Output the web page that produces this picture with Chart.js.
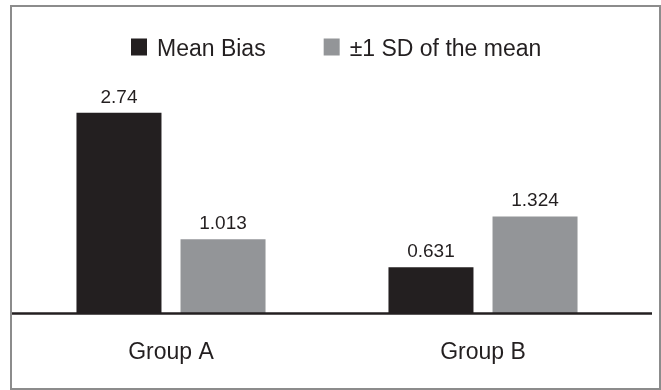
<!DOCTYPE html>
<html>
<head>
<meta charset="utf-8">
<script src="https://cdn.jsdelivr.net/npm/chart.js@4"></script>
<style>
  html, body { margin: 0; padding: 0; background: #ffffff; }
  #wrap { position: relative; width: 661px; height: 390px; overflow: hidden; }
  #frame { position: absolute; left: 10px; top: 5px; width: 651px; height: 385px; box-sizing: border-box; border: 2px solid #8c8c8c; pointer-events: none; }
  canvas { position: absolute; left: 0; top: 0; }
</style>
</head>
<body>
<div id="wrap">
  <canvas id="c" width="661" height="390"></canvas>
  <div id="frame"></div>
</div>
<script>
const categories = ["Group A", "Group B"];
const seriesNames = ["Mean Bias", "\u00b11 SD of the mean"];
const meanBias = [2.74, 0.631];
const sdOfMean = [1.013, 1.324];
const valueLabels = [["2.74", "0.631"], ["1.013", "1.324"]];

const INK = "#231f20";
const GREY = "#939598";
const FONT = "'Liberation Sans', Arial, Helvetica, sans-serif";

const valueLabelPlugin = {
  id: "valueLabels",
  afterDatasetsDraw(chart) {
    const ctx = chart.ctx;
    ctx.save();
    ctx.fillStyle = INK;
    ctx.font = "19px " + FONT;
    ctx.textAlign = "center";
    ctx.textBaseline = "alphabetic";
    chart.data.datasets.forEach((ds, di) => {
      chart.getDatasetMeta(di).data.forEach((bar, i) => {
        ctx.fillText(valueLabels[di][i], bar.x, bar.y - 10);
      });
    });
    // baseline axis line
    const y0 = chart.scales.y.getPixelForValue(0);
    ctx.strokeStyle = INK;
    ctx.lineWidth = 2.5;
    ctx.beginPath();
    ctx.moveTo(chart.chartArea.left - 3, y0);
    ctx.lineTo(chart.chartArea.right + 13, y0);
    ctx.stroke();
    ctx.restore();
  }
};

const legendPlugin = {
  id: "customLegend",
  afterDraw(chart) {
    const ctx = chart.ctx;
    ctx.save();
    ctx.font = "23px " + FONT;
    ctx.textBaseline = "alphabetic";
    ctx.textAlign = "left";
    let x = 131;
    const baseY = 56;
    chart.data.datasets.forEach((ds) => {
      ctx.fillStyle = ds.backgroundColor;
      ctx.fillRect(x, 38.5, 16, 17);
      ctx.fillStyle = INK;
      ctx.fillText(ds.label, x + 26, baseY);
      x += 26 + ctx.measureText(ds.label).width + 58;
    });
    ctx.restore();
  }
};

new Chart(document.getElementById("c"), {
  type: "bar",
  data: {
    labels: categories,
    datasets: [
      { label: seriesNames[0], data: meanBias, backgroundColor: INK, borderWidth: 0 },
      { label: seriesNames[1], data: sdOfMean, backgroundColor: GREY, borderWidth: 0 }
    ]
  },
  options: {
    responsive: false,
    animation: false,
    events: [],
    categoryPercentage: 0.667,
    barPercentage: 0.817,
    layout: { padding: { left: 15, right: 22, top: 79, bottom: 0 } },
    plugins: {
      legend: { display: false },
      tooltip: { enabled: false },
      title: { display: false }
    },
    scales: {
      x: {
        grid: { display: false, drawTicks: false },
        border: { display: false },
        ticks: { color: INK, font: { family: FONT, size: 23, lineHeight: 1.0 }, padding: 28 },
        afterFit: (s) => { s.height = 76.5; }
      },
      y: {
        display: false,
        min: 0,
        max: 3.2
      }
    }
  },
  plugins: [valueLabelPlugin, legendPlugin]
});
</script>
</body>
</html>
